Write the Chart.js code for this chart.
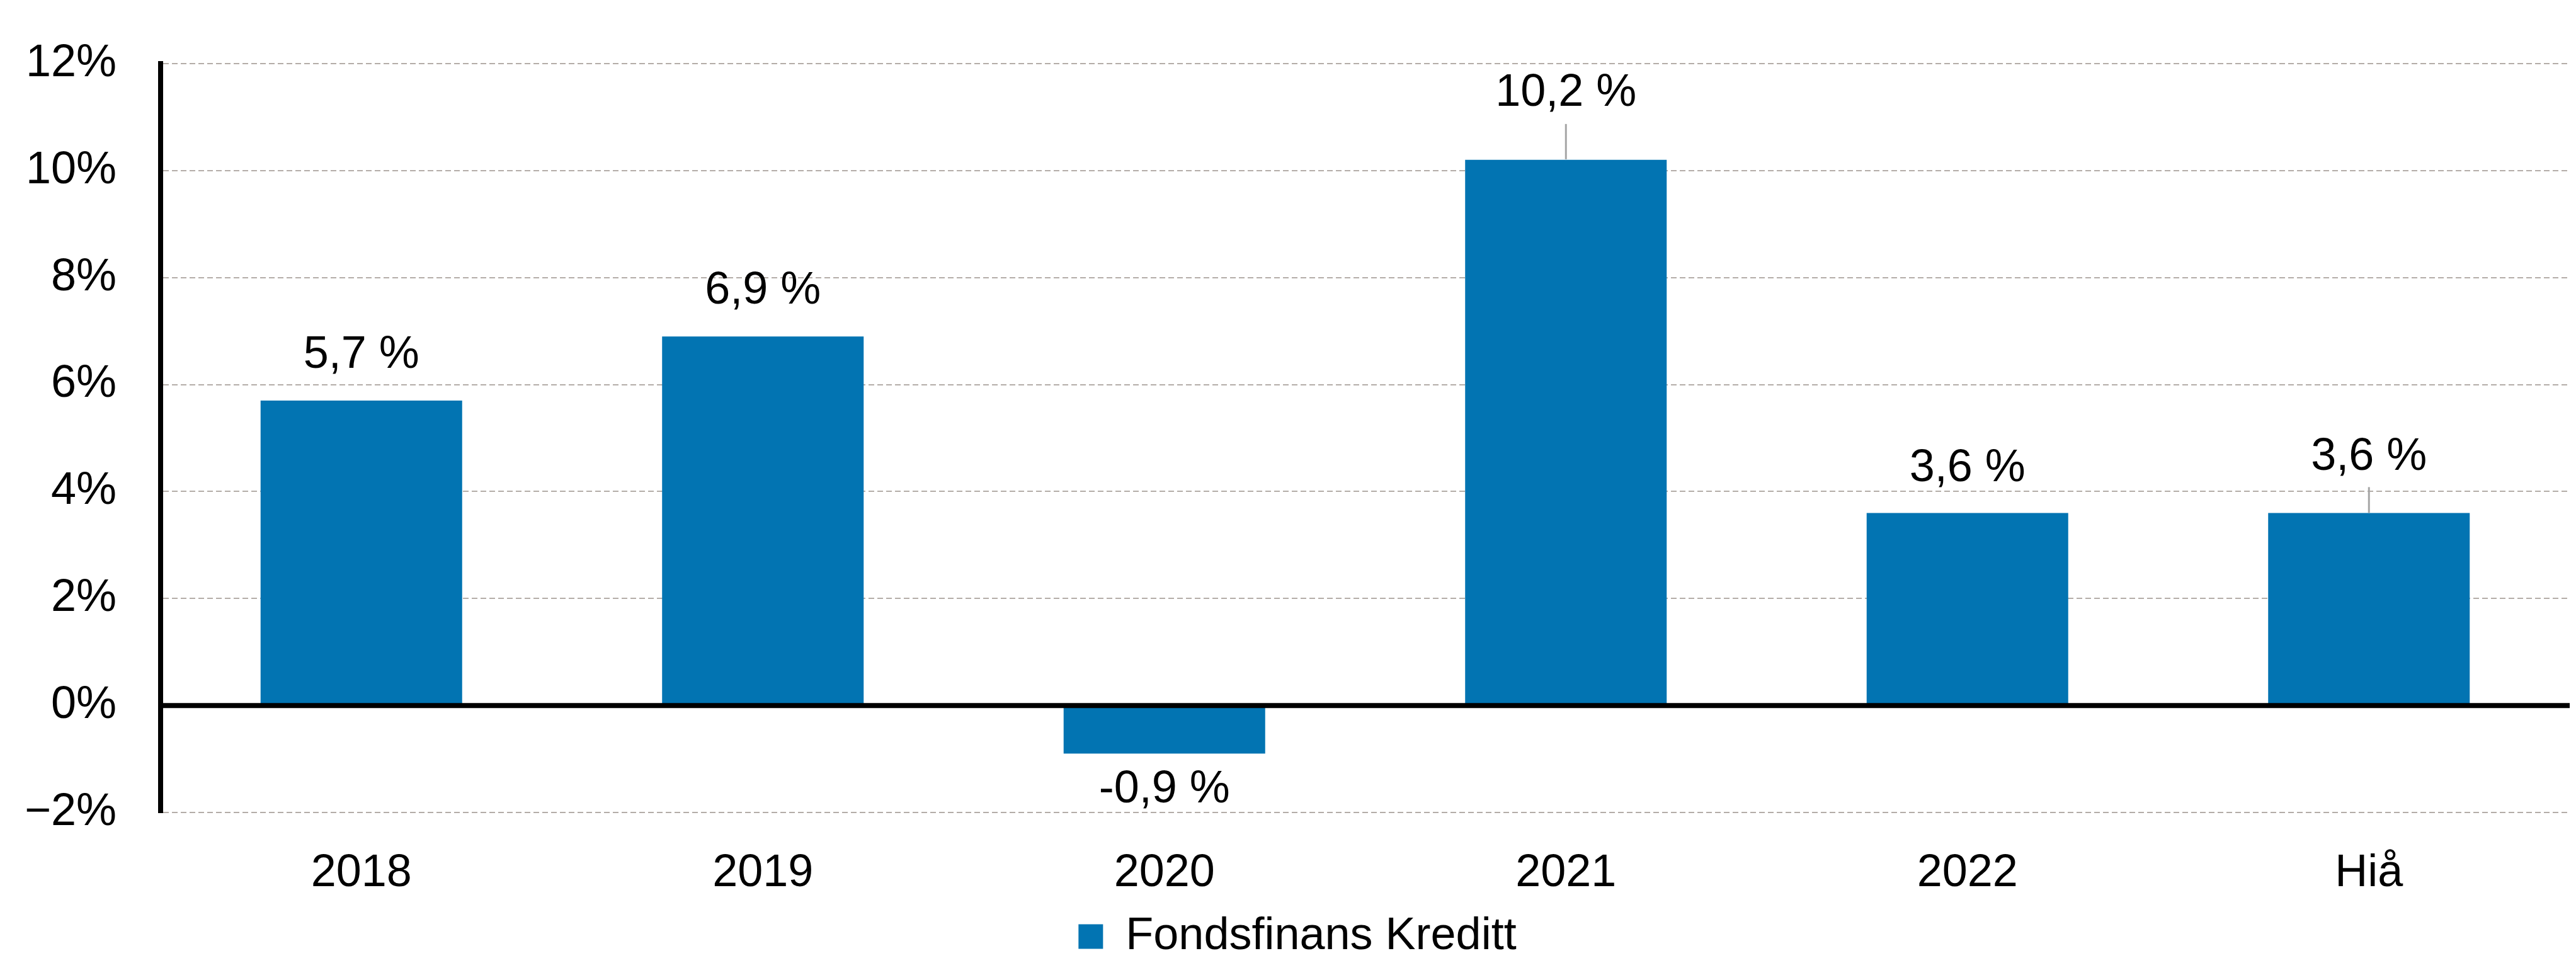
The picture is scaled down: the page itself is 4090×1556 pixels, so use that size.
<!DOCTYPE html>
<html>
<head>
<meta charset="utf-8">
<style>
  html, body { margin: 0; padding: 0; background: #ffffff; }
  #wrap { width: 4090px; height: 1556px; position: relative; }
</style>
<script src="https://cdn.jsdelivr.net/npm/chart.js@4/dist/chart.umd.min.js"></script>
</head>
<body>
<div id="wrap"><canvas id="c" width="4090" height="1556"></canvas></div>
<script>
// ---- data ----
const categories = ['2018', '2019', '2020', '2021', '2022', 'Hiå'];
const returns = [5.7, 6.9, -0.9, 10.2, 3.6, 3.6];
const seriesName = 'Fondsfinans Kreditt';
const yMin = -2;
const yMax = 12;
const yStep = 2;
const valueLabels = returns.map(v => (v < 0 ? '-' : '') + Math.abs(v).toFixed(1).replace('.', ',') + ' %');

// ---- styling / placement (not data) ----
const FONT = '"Liberation Sans", Arial, sans-serif';
const FS = 72;
const BAR_COLOR = '#0274b2';
const labelShift = [-78, -78, 52, -112, -76, -94];   // cap-centre offset from bar end (px)
const leaderSpan = [null, null, null, [-57, -1], null, [-41, 0]];

Chart.defaults.color = '#000';
Chart.defaults.font.family = FONT;
Chart.defaults.font.size = FS;

const zeroLine = {
  id: 'zeroLine',
  afterDatasetsDraw(chart) {
    const {ctx, chartArea, scales} = chart;
    const y = scales.y.getPixelForValue(0);
    ctx.save();
    ctx.strokeStyle = '#000';
    ctx.lineWidth = 8;
    ctx.beginPath();
    ctx.moveTo(chartArea.left - 4, y);
    ctx.lineTo(chartArea.right, y);
    ctx.stroke();
    ctx.restore();
  }
};

const valueLabelPlugin = {
  id: 'valueLabels',
  afterDraw(chart) {
    const {ctx} = chart;
    const meta = chart.getDatasetMeta(0);
    ctx.save();
    ctx.font = FS + 'px ' + FONT;
    ctx.fillStyle = '#000';
    ctx.textAlign = 'center';
    ctx.textBaseline = 'alphabetic';
    const capHalf = FS * 0.716 / 2;
    meta.data.forEach((el, i) => {
      const capCenter = el.y + labelShift[i];
      ctx.fillText(valueLabels[i], el.x, capCenter + capHalf);
      const ls = leaderSpan[i];
      if (ls) {
        ctx.strokeStyle = '#a6a6a6';
        ctx.lineWidth = 3;
        ctx.beginPath();
        ctx.moveTo(el.x, el.y + ls[0]);
        ctx.lineTo(el.x, el.y + ls[1]);
        ctx.stroke();
      }
    });
    ctx.restore();
  }
};

new Chart(document.getElementById('c'), {
  type: 'bar',
  data: {
    labels: categories,
    datasets: [{
      label: seriesName,
      data: returns,
      backgroundColor: BAR_COLOR,
      borderWidth: 0,
      categoryPercentage: 1,
      barPercentage: 0.502
    }]
  },
  options: {
    responsive: false,
    animation: false,
    devicePixelRatio: 1,
    layout: { padding: { top: 101, left: 40, right: 10, bottom: 23 } },
    plugins: {
      legend: {
        position: 'bottom',
        labels: {
          font: { size: FS, family: FONT },
          color: '#000',
          boxWidth: 39,
          boxHeight: 39,
          padding: 28
        }
      },
      tooltip: { enabled: false }
    },
    scales: {
      x: {
        grid: { display: false, drawTicks: false },
        border: { display: false },
        ticks: { font: { size: FS, family: FONT }, color: '#000', padding: 54, maxRotation: 0 },
        afterFit: s => { s.height = 133; }
      },
      y: {
        min: yMin,
        max: yMax,
        ticks: {
          stepSize: yStep,
          font: { size: FS, family: FONT },
          color: '#000',
          padding: 70,
          callback: v => (v < 0 ? '\u2212' : '') + Math.abs(v) + '%'
        },
        grid: {
          drawTicks: false,
          lineWidth: 2,
          color: c => (c.tick && c.tick.value === 0) ? 'rgba(0,0,0,0)' : '#b4ada8'
        },
        border: { display: true, color: '#000', width: 8, dash: [9, 5] },
        afterFit: s => { s.width = 215; s.paddingTop = 0; s.paddingBottom = 0; }
      }
    }
  },
  plugins: [zeroLine, valueLabelPlugin]
});
</script>
</body>
</html>
